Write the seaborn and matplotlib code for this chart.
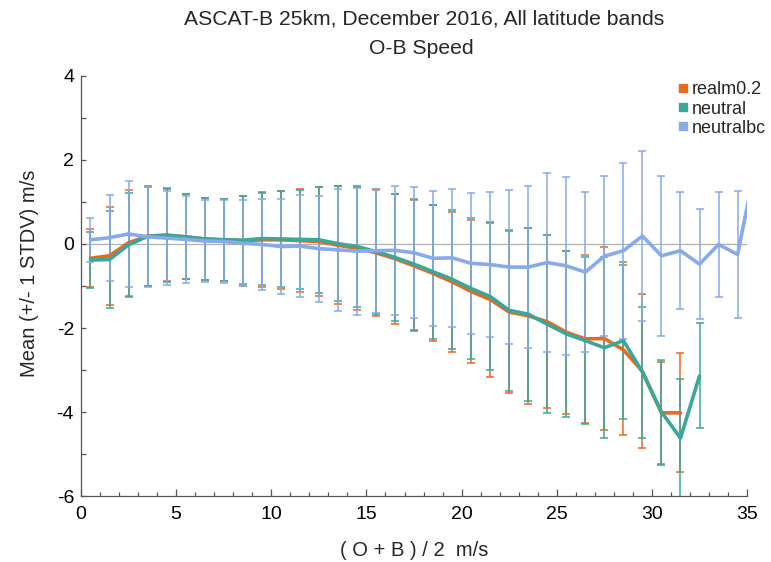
import numpy as np
import pandas as pd
import matplotlib
matplotlib.use("Agg")
import matplotlib.pyplot as plt
from matplotlib.lines import Line2D
from matplotlib.ticker import MultipleLocator
import seaborn as sns

# ---------------------------------------------------------------------------
# O-B speed statistics per (O+B)/2 speed bin (mean and +/- 1 STDV)
# ---------------------------------------------------------------------------
bin_centres = [0.5, 1.5, 2.5, 3.5, 4.5, 5.5, 6.5, 7.5, 8.5, 9.5,
               10.5, 11.5, 12.5, 13.5, 14.5, 15.5, 16.5, 17.5, 18.5, 19.5,
               20.5, 21.5, 22.5, 23.5, 24.5, 25.5, 26.5, 27.5, 28.5, 29.5,
               30.5, 31.5, 32.5, 33.5, 34.5, 35.5]

realm_mean = [-0.34, -0.28, 0.03, 0.19, 0.21, 0.17, 0.12, 0.10, 0.08, 0.10,
              0.10, 0.08, 0.06, -0.03, -0.10, -0.21, -0.35, -0.52, -0.70, -0.90,
              -1.13, -1.32, -1.62, -1.71, -1.85, -2.10, -2.26, -2.25, -2.52, -3.03,
              -4.02, -4.02]
realm_std = [0.69, 1.17, 1.26, 1.18, 1.10, 1.01, 0.98, 0.97, 1.07, 1.12,
             1.17, 1.23, 1.29, 1.40, 1.46, 1.50, 1.55, 1.56, 1.62, 1.67,
             1.71, 1.84, 1.93, 2.10, 2.06, 1.94, 2.00, 2.19, 2.02, 1.83,
             1.22, 1.42]

neutral_mean = [-0.38, -0.37, -0.02, 0.18, 0.21, 0.17, 0.12, 0.10, 0.09, 0.13,
                0.12, 0.11, 0.10, 0.01, -0.06, -0.18, -0.32, -0.48, -0.66, -0.84,
                -1.06, -1.25, -1.58, -1.67, -1.91, -2.14, -2.30, -2.47, -2.30, -3.05,
                -4.00, -4.62, -3.14]
neutral_std = [0.66, 1.15, 1.24, 1.18, 1.12, 1.01, 0.98, 0.97, 1.05, 1.10,
               1.15, 1.17, 1.26, 1.37, 1.43, 1.48, 1.52, 1.56, 1.60, 1.66,
               1.68, 1.76, 1.92, 2.06, 2.12, 1.98, 1.98, 2.16, 1.87, 1.56,
               1.25, 1.41, 1.25]

neutralbc_mean = [0.10, 0.15, 0.24, 0.17, 0.14, 0.11, 0.07, 0.06, 0.02, -0.01,
                  -0.06, -0.05, -0.11, -0.14, -0.17, -0.16, -0.15, -0.21, -0.34, -0.33,
                  -0.46, -0.49, -0.55, -0.55, -0.44, -0.52, -0.67, -0.29, -0.16, 0.19,
                  -0.28, -0.16, -0.48, -0.01, -0.25, 2.00]
neutralbc_std = [0.52, 1.02, 1.27, 1.19, 1.11, 1.03, 0.98, 0.98, 1.03, 1.09,
                 1.14, 1.21, 1.26, 1.46, 1.51, 1.48, 1.53, 1.56, 1.61, 1.65,
                 1.68, 1.72, 1.84, 1.93, 2.12, 2.12, 1.91, 1.90, 2.09, 2.03,
                 1.91, 1.39, 1.31, 1.25, 1.52, 1.50]

run_names = ["realm0.2", "neutral", "neutralbc"]
run_colors = {"realm0.2": "#E8691F", "neutral": "#3AA898", "neutralbc": "#86AAEA"}

series = {
    "realm0.2": (realm_mean, realm_std),
    "neutral": (neutral_mean, neutral_std),
    "neutralbc": (neutralbc_mean, neutralbc_std),
}

frames = []
for name in run_names:
    mean, std = series[name]
    frames.append(pd.DataFrame({
        "speed": bin_centres[:len(mean)],
        "mean": mean,
        "std": std,
        "run": name,
    }))
df = pd.concat(frames, ignore_index=True)

sns.set_style("ticks")
plt.rcParams["font.family"] = ["Liberation Sans", "DejaVu Sans"]
plt.rcParams["axes.unicode_minus"] = False

fig = plt.figure(figsize=(7.71, 5.62), dpi=100)
ax = fig.add_axes([0.105, 0.1174, 0.864, 0.7474])

ax.axhline(0, color="#b0b0b0", lw=0.9, zorder=0)

# error bars first, lines on top
for name in run_names:
    d = df[df["run"] == name]
    ax.errorbar(d["speed"], d["mean"], yerr=d["std"], fmt="none",
                ecolor=run_colors[name], elinewidth=1.3, capsize=3.2,
                capthick=1.3, alpha=0.85, zorder=2)

sns.lineplot(data=df, x="speed", y="mean", hue="run", hue_order=run_names,
             palette=run_colors, linewidth=2.6, legend=False, sort=False,
             estimator=None, ax=ax, zorder=3)

ax.set_xlim(0, 35)
ax.set_ylim(-6, 4)
ax.xaxis.set_major_locator(MultipleLocator(5))
ax.xaxis.set_minor_locator(MultipleLocator(1))
ax.yaxis.set_major_locator(MultipleLocator(2))
ax.yaxis.set_minor_locator(MultipleLocator(1))
ax.tick_params(which="both", direction="in", colors="#555555", labelcolor="black",
               labelsize=14, width=0.9)
ax.tick_params(axis="x", which="major", length=5, pad=7)
ax.tick_params(axis="x", which="minor", length=3)
ax.tick_params(axis="y", which="both", length=3.5, pad=5)

for side in ["top", "right"]:
    ax.spines[side].set_visible(False)
for side in ["left", "bottom"]:
    ax.spines[side].set_color("#555555")
    ax.spines[side].set_linewidth(0.9)

ax.set_xlabel("( O + B ) / 2  m/s", fontsize=14.5, labelpad=13)
ax.set_ylabel("Mean (+/- 1 STDV) m/s", fontsize=14.5)
ax.yaxis.set_label_coords(-0.063, 0.53)

fig.text(0.55, 0.966, "ASCAT-B 25km, December 2016, All latitude bands",
         ha="center", va="center", fontsize=15.2)
fig.text(0.547, 0.914, "O-B Speed", ha="center", va="center", fontsize=15.2)

handles = [Line2D([], [], marker="s", linestyle="none", markersize=6,
                  color=run_colors[n]) for n in run_names]
fig.legend(handles, run_names, loc="upper right", bbox_to_anchor=(1.003, 0.868),
           frameon=False, fontsize=13, handletextpad=0.15, labelspacing=0.12,
           handlelength=0.7, borderaxespad=0.0)

fig.savefig("out.png", dpi=100)
